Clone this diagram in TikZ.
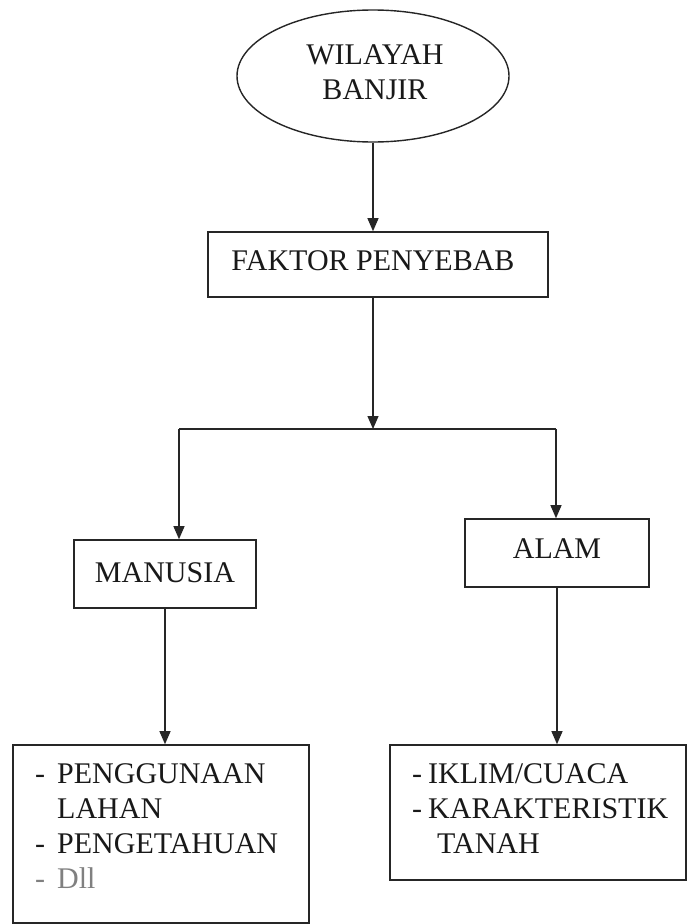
\documentclass[tikz,border=0pt]{standalone}
\usepackage{fontspec}
\setmainfont{Liberation Serif}
\usetikzlibrary{shapes.geometric,arrows.meta}
\begin{document}
\begin{tikzpicture}[x=1pt,y=-1pt,
  box/.style={draw, line width=1.6pt, rectangle, inner sep=0pt, draw=black!85},
  conn/.style={line width=1.2pt, draw=black!85, -{Triangle[length=13pt,width=11pt]}},
  lbl/.style={font=\fontsize{30}{35}\selectfont, inner sep=0pt, text=black!90}]
\useasboundingbox (0,0) rectangle (688,924);
\node[draw=black!85, ellipse, line width=1.4pt, minimum width=272pt, minimum height=132pt, inner sep=0pt] (el) at (373,76) {};
\node[lbl, align=center] (elt) at (375,72.5) {WILAYAH\\BANJIR};
\node[box, lbl, minimum width=340pt, minimum height=65pt, text height=20pt, text depth=9pt] (fak) at (378,264.5) {FAKTOR PENYEBAB\hspace*{10pt}};
\node[box, lbl, minimum width=182pt, minimum height=68pt, text height=20pt, text depth=4pt] (man) at (165,574) {MANUSIA};
\node[box, lbl, minimum width=184pt, minimum height=68pt, text height=20pt, text depth=10pt] (al) at (557,553) {ALAM};
\node[box, minimum width=296pt, minimum height=178pt] (lb) at (161,834) {};
\node[box, minimum width=296pt, minimum height=135pt] (rb) at (538,812.5) {};
\node[lbl, anchor=base west] (lt) at (35,783) {\begin{tabular}[t]{@{}l@{\hspace{12pt}}l@{}}-&PENGGUNAAN\\&LAHAN\\-&PENGETAHUAN\\\color{gray}-&\color{gray}Dll\end{tabular}};
\node[lbl, anchor=base west] (rt) at (412,783) {\begin{tabular}[t]{@{}l@{\hspace{6pt}}l@{}}-&IKLIM/CUACA\\-&KARAKTERISTIK\\&\hspace*{9pt}TANAH\end{tabular}};
\coordinate (jl) at (179,429);
\coordinate (jr) at (556,429);
\draw[line width=2pt, draw=black!85] (jl) -- (jr);
\draw[conn] (el.south) -- (el.south |- fak.north);
\draw[conn] (el.south |- fak.south) -- (el.south |- jl);
\draw[conn] (jl) -- (jl |- man.north);
\draw[conn] (jr) -- (jr |- al.north);
\draw[conn] (man.south) -- (man.south |- lb.north);
\draw[conn] (al.south) -- (al.south |- rb.north);
\end{tikzpicture}
\end{document}
